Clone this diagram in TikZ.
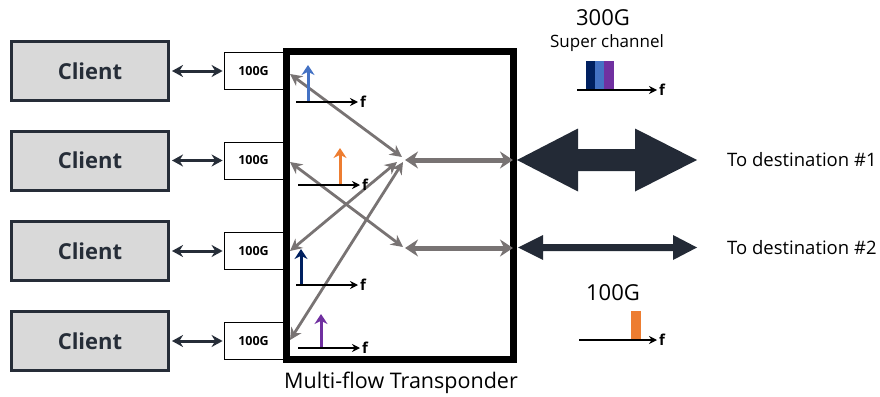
\documentclass[tikz,border=0pt]{standalone}
\usepackage{fontspec}
\setmainfont{Open Sans}
\usetikzlibrary{arrows.meta}
\definecolor{slate}{RGB}{38, 45, 56}
\definecolor{clientgray}{RGB}{217, 217, 217}
\definecolor{xgray}{RGB}{120, 115, 115}
\definecolor{darkarrow}{RGB}{35, 42, 54}
\definecolor{toneblue}{RGB}{68, 114, 196}
\definecolor{toneorange}{RGB}{237, 125, 49}
\definecolor{tonenavy}{RGB}{0, 32, 96}
\definecolor{tonepurple}{RGB}{112, 48, 160}

\begin{document}
\begin{tikzpicture}[x=1pt, y=-1pt,
  client/.style={draw=slate, line width=3pt, fill=clientgray,
    minimum width=157pt, minimum height=59pt, text=slate,
    font=\fontsize{22}{26}\selectfont\bfseries},
  rate/.style={draw=black, line width=0.8pt, fill=white,
    minimum width=59pt, minimum height=37pt, inner sep=0pt,
    font=\fontsize{12.5}{15}\selectfont\bfseries},
  link/.style={{Stealth[length=11pt,width=12pt]}-{Stealth[length=11pt,width=12pt]},
    line width=3pt, slate},
  xc/.style={{Stealth[length=12pt,width=12pt]}-{Stealth[length=12pt,width=12pt]},
    line width=2.8pt, xgray},
  trunk/.style={{Stealth[length=13pt,width=17pt]}-{Stealth[length=13pt,width=17pt]},
    line width=5pt, xgray},
  axis/.style={-{Stealth[length=8pt,width=8pt]}, line width=2.2pt, black},
  tone/.style={-{Stealth[length=10pt,width=13pt]}, line width=3pt},
  flbl/.style={font=\fontsize{15}{17}\selectfont\bfseries, anchor=west,
    inner sep=1pt},
  lbl/.style={font=\fontsize{18.5}{22}\selectfont, inner sep=0pt},
]

  % ── Canvas ──────────────────────────────────────────────────────────
  \useasboundingbox (0,0) rectangle (880,396);

  % ── Clients and 100G ports ──────────────────────────────────────────
  \foreach \i/\yy in {1/71, 2/160.5, 3/251, 4/341} {
    \node[client] (client\i) at (90,\yy) {Client};
    \node[rate] (rate\i) at (253.5,\yy) {100G};
    \draw[link, shorten <=2pt, shorten >=1pt] (client\i) -- (rate\i);
  }

  % ── Transponder frame ───────────────────────────────────────────────
  \node[draw=black, line width=7pt, minimum width=227pt, minimum height=308pt]
    (tp) at (400,205.5) {};
  \node[font=\fontsize{21.5}{25}\selectfont, inner sep=0pt] (tplabel)
    at (401,383) {Multi-flow Transponder};

  % ── Cross-connect ───────────────────────────────────────────────────
  \coordinate (p1) at (290,74);
  \coordinate (p2) at (290,162);
  \coordinate (p3) at (290,251);
  \coordinate (p4) at (290,340);
  \coordinate (hubA) at (402,157);
  \coordinate (hubB) at (397,162);
  \coordinate (hubC) at (403,162);
  \coordinate (hubD) at (403,247);
  \draw[xc] (p1) -- (hubA);
  \draw[xc] (p2) -- (hubD);
  \draw[xc] (p3) -- (hubB);
  \draw[xc] (p4) -- (hubC);

  \coordinate (out1) at (513,160);
  \coordinate (out2) at (513,248);
  \coordinate (in1) at (405,160);
  \coordinate (in2) at (405,248);
  \draw[trunk] (in1) -- (out1);
  \draw[trunk] (in2) -- (out2);

  % ── Per-port spectra ────────────────────────────────────────────────
  \foreach \xa/\yy/\xt/\yt/\col in {296/102/308/65/toneblue,
                                    298/185/340/148/toneorange,
                                    296/285/301/249/tonenavy,
                                    298/348/321/314/tonepurple} {
    \draw[tone, \col] (\xt,\yy) -- (\xt,\yt);
    \draw[axis] (\xa,\yy) -- (\xa+62,\yy) node[flbl] {f};
  }

  % ── Line-side outputs ───────────────────────────────────────────────
  \fill[darkarrow] (517,160) -- (578,128.5) -- (578,149) -- (635,149)
    -- (635,128.5) -- (697,160) -- (635,191.5) -- (635,171) -- (578,171)
    -- (578,191.5) -- cycle;
  \fill[darkarrow] (518,247.5) -- (543,235) -- (543,244) -- (673,244)
    -- (673,235) -- (697,247.5) -- (673,260) -- (673,251) -- (543,251)
    -- (543,260) -- cycle;
  \node[lbl, anchor=west] (dest1) at (727,160) {To destination \#1};
  \node[lbl, anchor=west] (dest2) at (727,248) {To destination \#2};

  % ── Super channel spectrum ──────────────────────────────────────────
  \node[font=\fontsize{22}{26}\selectfont, inner sep=0pt] (sc) at (603,18) {300G};
  \node[font=\fontsize{17}{20}\selectfont, inner sep=0pt] (sclabel)
    at (607,43) {Super channel};
  \fill[tonenavy]   (586,61) rectangle (595,90);
  \fill[toneblue]   (595,61) rectangle (604,90);
  \fill[tonepurple] (604,61) rectangle (614,90);
  \draw[axis] (577,90) -- (657,90) node[flbl] {f};

  % ── Single carrier spectrum ─────────────────────────────────────────
  \node[font=\fontsize{22}{26}\selectfont, inner sep=0pt] (single) at (613,293) {100G};
  \fill[toneorange] (631,311) rectangle (641,340);
  \draw[axis] (579,340) -- (657,340) node[flbl] {f};

\end{tikzpicture}
\end{document}
